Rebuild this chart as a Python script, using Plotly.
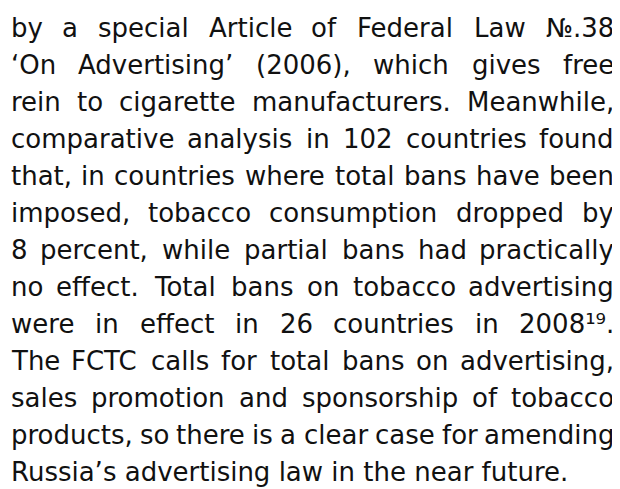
import plotly.graph_objects as go

# Text content (paragraph lines, as laid out in the reference)
lines = [
    "by a special Article of Federal Law №.38",
    "‘On Advertising’ (2006), which gives free",
    "rein to cigarette manufacturers. Meanwhile,",
    "comparative analysis in 102 countries found",
    "that, in countries where total bans have been",
    "imposed, tobacco consumption dropped by",
    "8 percent, while partial bans had practically",
    "no effect. Total bans on tobacco advertising",
    "were in effect in 26 countries in 2008¹⁹.",
    "The FCTC calls for total bans on advertising,",
    "sales promotion and sponsorship of tobacco",
    "products, so there is a clear case for amending",
    "Russia’s advertising law in the near future.",
]
justified = [True] * 12 + [False]

# Layout constants (page pixels; the page body has an 8px default margin)
W, H = 620, 489
BODY = 8
FONT = "DejaVu Sans"
SIZE = 26
LEFT, RIGHT = 10, 615
FIRST_BASE, LEAD = 37, 37.0
COLOR = "#111111"

# Approximate DejaVu Sans advance widths (units per 2048 em)
ADV = {
    " ": 651, "'": 563, "(": 799, ")": 799, ",": 651, ".": 651, "-": 739,
    "‘": 651, "’": 651, "№": 2200, "¹": 821, "⁹": 821,
    "A": 1401, "B": 1405, "C": 1430, "D": 1577, "E": 1294, "F": 1178, "G": 1587,
    "H": 1540, "I": 604, "J": 604, "K": 1343, "L": 1141, "M": 1767, "N": 1532,
    "O": 1612, "P": 1235, "Q": 1612, "R": 1423, "S": 1300, "T": 1251, "U": 1499,
    "V": 1401, "W": 2025, "X": 1403, "Y": 1251, "Z": 1403,
    "a": 1255, "b": 1300, "c": 1126, "d": 1300, "e": 1260, "f": 721, "g": 1300,
    "h": 1298, "i": 569, "j": 569, "k": 1186, "l": 569, "m": 1995, "n": 1298,
    "o": 1253, "p": 1300, "q": 1300, "r": 842, "s": 1067, "t": 803, "u": 1298,
    "v": 1212, "w": 1675, "x": 1212, "y": 1212, "z": 1075,
}
for d in "0123456789":
    ADV[d] = 1303


def width(s):
    return sum(ADV.get(ch, 1250) for ch in s) * SIZE / 2048.0


annotations = []
for i, (line, just) in enumerate(zip(lines, justified)):
    base = FIRST_BASE + i * LEAD
    yc = base - 0.346 * SIZE
    font = dict(family=FONT, size=SIZE, color=COLOR)
    if not just:
        annotations.append(dict(x=LEFT, y=yc, text=line, xanchor="left", yanchor="middle",
                                showarrow=False, font=font, xref="x", yref="y", borderpad=0))
        continue
    words = line.split(" ")
    ws = [width(w) for w in words]
    gap = (RIGHT - LEFT - sum(ws)) / (len(words) - 1)
    x = LEFT
    for j, (w, ww) in enumerate(zip(words, ws)):
        if j == 0:
            annotations.append(dict(x=LEFT, y=yc, text=w, xanchor="left"))
        elif j == len(words) - 1:
            annotations.append(dict(x=RIGHT, y=yc, text=w, xanchor="right"))
        else:
            annotations.append(dict(x=x + ww / 2, y=yc, text=w, xanchor="center"))
        annotations[-1].update(yanchor="middle", showarrow=False, font=font,
                               xref="x", yref="y", borderpad=0)
        x += ww + gap

fig = go.Figure()
fig.update_layout(
    width=W - BODY, height=H - BODY,
    margin=dict(l=0, r=0, t=0, b=0),
    paper_bgcolor="white", plot_bgcolor="white",
    xaxis=dict(range=[BODY, W], visible=False, fixedrange=True),
    yaxis=dict(range=[H, BODY], visible=False, fixedrange=True),
    annotations=annotations,
    showlegend=False,
)
fig.write_html("out.html", config=dict(displayModeBar=False))
